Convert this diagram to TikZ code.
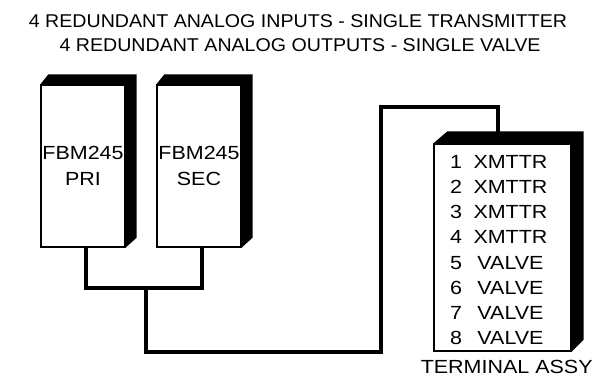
\documentclass[tikz,border=0pt]{standalone}
\usepackage{fontspec}
\setmainfont{Liberation Sans}[FakeStretch=1.13]
\newfontfamily\titlefont{Liberation Sans}[FakeStretch=1.06]
\begin{document}
\begin{tikzpicture}[x=1pt,y=-1pt,
  face/.style={draw=black,fill=white,line width=1.3pt,inner sep=0pt,align=center,
    font=\fontsize{19}{26.7}\selectfont},
  shell/.style={fill=black},
  wire/.style={draw=black,line width=4pt,line join=miter},
  txt/.style={inner sep=0pt,font=\fontsize{19}{22}\selectfont},
  ttl/.style={inner sep=0pt,font=\titlefont\fontsize{18.5}{22}\selectfont}]
\useasboundingbox (0,0) rectangle (595,385);
% titles
\node[ttl] (t1) at (298,21) {4 REDUNDANT ANALOG INPUTS - SINGLE TRANSMITTER};
\node[ttl] (t2) at (300,45) {4 REDUNDANT ANALOG OUTPUTS - SINGLE VALVE};
% junction coordinates
\coordinate (bus) at (146,288);
\coordinate (w1) at (146,352);
\coordinate (w2) at (381,352);
\coordinate (w3) at (381,107);
\coordinate (w4) at (498,107);
\coordinate (w5) at (498,132);
% wires
\coordinate (ps) at (85.7,247);
\coordinate (ss) at (201.7,247);
\draw[wire] (ps) |- (ss |- bus) -- (ss);
\draw[wire] (bus) -- (w1) -- (w2) -- (w3) -- (w4) -- (w5);
% FBM boxes
\node[face,minimum width=84pt,minimum height=162pt] (pri) at (83,166) {FBM245\\PRI};
\node[face,minimum width=84pt,minimum height=162pt] (sec) at (199,166) {FBM245\\SEC};
\foreach \b in {pri,sec}{
  \fill[shell] (\b.north west) -- ([shift={(8,-10)}]\b.north west)
    -- ([shift={(11,-10)}]\b.north east) -- ([shift={(11,-10)}]\b.south east)
    -- (\b.south east) -- (\b.north east) -- cycle;
}
% terminal assembly
\node[face,minimum width=137pt,minimum height=207pt] (term) at (502.5,247.5) {};
\fill[shell] (term.north west) -- ([shift={(14,-12)}]term.north west)
    -- ([shift={(12,-12)}]term.north east) -- ([shift={(12,-12)}]term.south east)
    -- (term.south east) -- (term.north east) -- cycle;
\foreach \i/\l in {1/XMTTR,2/XMTTR,3/XMTTR,4/XMTTR,5/VALVE,6/VALVE,7/VALVE,8/VALVE}{
  \node[txt] (n\i) at (456,{162+25.14*(\i-1)}) {\i};
  \node[txt] (l\i) at (510.5,{162+25.14*(\i-1)}) {\l};
}
\node[txt] (tl) at (506.7,366.7) {TERMINAL ASSY};
\end{tikzpicture}
\end{document}
